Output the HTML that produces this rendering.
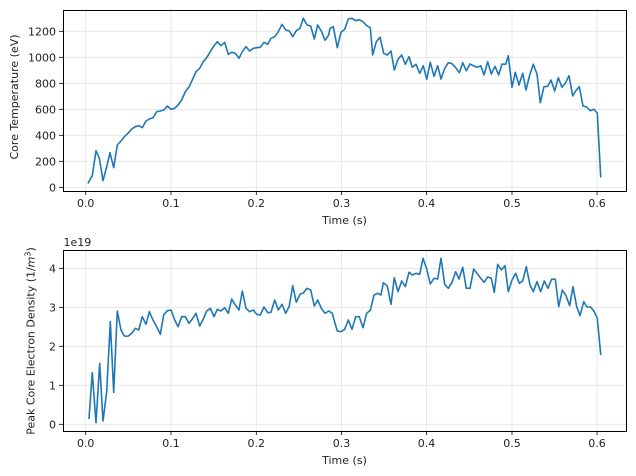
<!DOCTYPE html>
<html><head><style>
html,body{margin:0;padding:0;background:#fff;}
svg{display:block;font-family:"DejaVu Sans","Liberation Sans",sans-serif;}
</style></head><body>
<svg width="636" height="476" viewBox="0 0 636 476" xmlns="http://www.w3.org/2000/svg">
<rect width="636" height="476" fill="#fff"/>
<g stroke="#e3e3e3" stroke-width="0.8">
<line x1="85.7" y1="10" x2="85.7" y2="191"/><line x1="171" y1="10" x2="171" y2="191"/><line x1="256.3" y1="10" x2="256.3" y2="191"/><line x1="341.5" y1="10" x2="341.5" y2="191"/><line x1="426.5" y1="10" x2="426.5" y2="191"/><line x1="512" y1="10" x2="512" y2="191"/><line x1="597" y1="10" x2="597" y2="191"/>
<line x1="63" y1="187.3" x2="626" y2="187.3"/><line x1="63" y1="161.3" x2="626" y2="161.3"/><line x1="63" y1="135.3" x2="626" y2="135.3"/><line x1="63" y1="109.3" x2="626" y2="109.3"/><line x1="63" y1="83.3" x2="626" y2="83.3"/><line x1="63" y1="57.3" x2="626" y2="57.3"/><line x1="63" y1="31.3" x2="626" y2="31.3"/>
<line x1="85.7" y1="250" x2="85.7" y2="431"/><line x1="171" y1="250" x2="171" y2="431"/><line x1="256.3" y1="250" x2="256.3" y2="431"/><line x1="341.5" y1="250" x2="341.5" y2="431"/><line x1="426.5" y1="250" x2="426.5" y2="431"/><line x1="512" y1="250" x2="512" y2="431"/><line x1="597" y1="250" x2="597" y2="431"/>
<line x1="63" y1="424.3" x2="626" y2="424.3"/><line x1="63" y1="385.3" x2="626" y2="385.3"/><line x1="63" y1="346.3" x2="626" y2="346.3"/><line x1="63" y1="307.3" x2="626" y2="307.3"/><line x1="63" y1="268.3" x2="626" y2="268.3"/>
</g>
<g fill="none" stroke="#1f77b4" stroke-width="1.6" stroke-linejoin="round" stroke-linecap="square">
<polyline points="88.3,182.7 92.3,175.7 96,150.7 99.3,158.3 103,180.7 106.7,166.7 110,152.7 113.7,167.7 117.3,145 121,141 124.3,136.7 128,133.3 131.7,129 135.3,126.7 138.7,125.7 142.3,127.7 146,121 149.3,119 153,117.7 156.7,111.7 160.3,111 163.7,110 167.3,106 171,109.3 174.7,108.3 178,105 181.7,100 185.3,91.7 189,87 192.3,80 196,71.7 199.7,68.3 203.3,61.7 206.7,57.7 210.3,51.7 214,45.7 217.3,41.7 221,45.7 224.7,42.3 228.3,54.3 231.7,52.3 235.3,53.3 239,58.3 242.3,51.7 246,46.7 249.7,51 253.3,48.3 256.7,47.7 260.3,47.3 264,42.3 267.7,44.3 271,38.3 274.7,36.7 278.3,31.7 282,24.3 285.7,30 289.3,31 292.7,36.7 296.3,30.7 300,28.3 303.3,18.3 307,25 310.7,26 314.3,39 317.7,25 321.3,31 325,40.3 328.7,35 330,28.3 333.3,26.7 337.3,47.7 341,32.3 344.7,29.3 348.3,19 352,18.3 355.7,20.7 359.3,19.7 363,21.7 366.7,25.7 370.3,27.7 372.7,55 376.3,41.7 380,37.3 383.7,53.3 387.3,55 391,51 394.3,70 398,59.3 401.7,55 405.3,64.3 409,56.7 412.3,67.3 416,64.3 419.7,73.3 423.3,65.7 426.7,79.3 430.3,62.3 434,76.3 437.7,65.7 441,79 444.7,68.3 448.3,62.7 452,63.7 455.7,67.7 459.3,72.7 462.7,62.7 466.3,70.7 470,64 473.7,66 477,67.3 480.7,65.7 484,75 487.7,61.7 491.3,74 495,66.3 498.7,75 502,64 505.7,64.3 508.3,55.7 512,87.3 515.3,72.3 519,85 522.7,73.3 526,90 529.7,75 533.3,64.3 537,74 540.3,102.7 544,86.7 547.7,86.3 551,80 554.7,91 558.3,77.7 562,87.3 565.3,83.3 569,75.7 572.7,96 576.3,90 579.3,86.7 583,106 586.7,107 590.3,110.7 594,109.3 597.3,113.3 600.7,176.7"/>
<polyline points="89,418.3 92.3,372.7 96,422.7 99.7,363.3 103,421 106.7,391.7 110.3,321.7 113.7,392.3 117.3,311 121,330 124.3,336 128,336.3 131.7,333.3 135.3,328.3 138.7,330 142.3,316.7 146,324.3 149.3,311.7 153,320 156.7,326.7 160.3,334.3 163.7,315 167.3,310.7 171,310 174.7,320 178,326.7 181.7,316.7 185.3,316.7 189,323.3 192.3,319 196,313.3 199.7,326 203.3,319 206.7,311 210.3,308.3 214,316.7 217.3,309.3 221,311 224.7,307.7 228.3,313.3 231.7,299 235.3,305 239,310 242.3,291 246,308.3 249.7,311.7 253.3,310 256.7,314.3 260.3,315 264,307 267.7,312.7 271,312.3 274.7,300 278.3,310 282,304.3 285.7,313.3 289.3,306 292.7,285.7 296.3,302.3 300,294.3 303.3,293 307,288.3 310.7,290 314.3,306 317.7,300 321.3,308.3 325,313.3 328.7,311 332.3,313.3 333.3,317.3 337.3,331 341,331.7 344.7,329.3 348.3,320 352,329.3 355.7,316.7 359.3,316.7 363,327.7 366.7,313.3 370.3,310.3 374,295 377.7,293.3 381,295 383.3,282.7 387.3,286 391,304.3 394.3,277.7 398,291.7 401.7,281 405.3,286.7 409,272.3 412.3,275 416,273.3 419.7,274.3 423,258.3 426.7,269 430.3,284 434,278.3 437.7,279 441,258.3 444.7,284.3 448.3,288.3 452,282.3 455.7,271.7 459,279 462.7,267.3 466.3,288.3 470,288.3 473.7,269 477,273.3 480.7,278.3 484,282.3 487.7,277 491.3,278.3 494.3,292.3 497.7,264.3 501.3,270 505,265.7 508.3,291.7 512,280 515.7,273.3 519.3,283.3 522.7,281 526.3,266.7 530,285 533.3,291.7 537,281.7 540.7,291.7 544.3,281 548,288.3 551.7,279 555.3,279.3 558.7,306.7 562.3,290 566,295.7 569.7,305.7 573,286.7 576.7,306.7 580,315.7 583.7,301.7 587,307 590.7,307 594.3,311.7 597.3,318.3 600.7,354.3"/>
</g>
<g fill="none" stroke="#000" stroke-width="1">
<rect x="63.5" y="10.5" width="563" height="181"/>
<rect x="63.5" y="250.5" width="563" height="181"/>
</g>
<g stroke="#000" stroke-width="0.8">
<line x1="85.7" y1="191" x2="85.7" y2="195"/><line x1="171" y1="191" x2="171" y2="195"/><line x1="256.3" y1="191" x2="256.3" y2="195"/><line x1="341.5" y1="191" x2="341.5" y2="195"/><line x1="426.5" y1="191" x2="426.5" y2="195"/><line x1="512" y1="191" x2="512" y2="195"/><line x1="597" y1="191" x2="597" y2="195"/>
<line x1="85.7" y1="431" x2="85.7" y2="435"/><line x1="171" y1="431" x2="171" y2="435"/><line x1="256.3" y1="431" x2="256.3" y2="435"/><line x1="341.5" y1="431" x2="341.5" y2="435"/><line x1="426.5" y1="431" x2="426.5" y2="435"/><line x1="512" y1="431" x2="512" y2="435"/><line x1="597" y1="431" x2="597" y2="435"/>
<line x1="59" y1="187.3" x2="63" y2="187.3"/><line x1="59" y1="161.3" x2="63" y2="161.3"/><line x1="59" y1="135.3" x2="63" y2="135.3"/><line x1="59" y1="109.3" x2="63" y2="109.3"/><line x1="59" y1="83.3" x2="63" y2="83.3"/><line x1="59" y1="57.3" x2="63" y2="57.3"/><line x1="59" y1="31.3" x2="63" y2="31.3"/>
<line x1="59" y1="424.3" x2="63" y2="424.3"/><line x1="59" y1="385.3" x2="63" y2="385.3"/><line x1="59" y1="346.3" x2="63" y2="346.3"/><line x1="59" y1="307.3" x2="63" y2="307.3"/><line x1="59" y1="268.3" x2="63" y2="268.3"/>
</g>
<g font-size="11" fill="#222" text-anchor="middle">
<text x="85.7" y="207">0.0</text><text x="171" y="207">0.1</text><text x="256.3" y="207">0.2</text><text x="341.5" y="207">0.3</text><text x="426.5" y="207">0.4</text><text x="512" y="207">0.5</text><text x="597" y="207">0.6</text>
<text x="85.7" y="447">0.0</text><text x="171" y="447">0.1</text><text x="256.3" y="447">0.2</text><text x="341.5" y="447">0.3</text><text x="426.5" y="447">0.4</text><text x="512" y="447">0.5</text><text x="597" y="447">0.6</text>
<text x="344.5" y="224">Time (s)</text>
<text x="344.5" y="464">Time (s)</text>
</g>
<g font-size="11" fill="#222" text-anchor="end">
<text x="56" y="191.3">0</text><text x="56" y="165.3">200</text><text x="56" y="139.3">400</text><text x="56" y="113.3">600</text><text x="56" y="87.3">800</text><text x="56" y="61.3">1000</text><text x="56" y="35.3">1200</text>
<text x="56" y="428.3">0</text><text x="56" y="389.3">1</text><text x="56" y="350.3">2</text><text x="56" y="311.3">3</text><text x="56" y="272.3">4</text>
</g>
<text x="63.5" y="246" font-size="11" fill="#222">1e19</text>
<text transform="translate(18,97) rotate(-90)" font-size="11" fill="#222" text-anchor="middle">Core Temperature (eV)</text>
<text transform="translate(34.5,341) rotate(-90)" font-size="11" fill="#222" text-anchor="middle">Peak Core Electron Density (1/<tspan font-style="italic">m</tspan><tspan font-size="8" dy="-4">3</tspan><tspan dy="4">)</tspan></text>
</svg>
</body></html>
